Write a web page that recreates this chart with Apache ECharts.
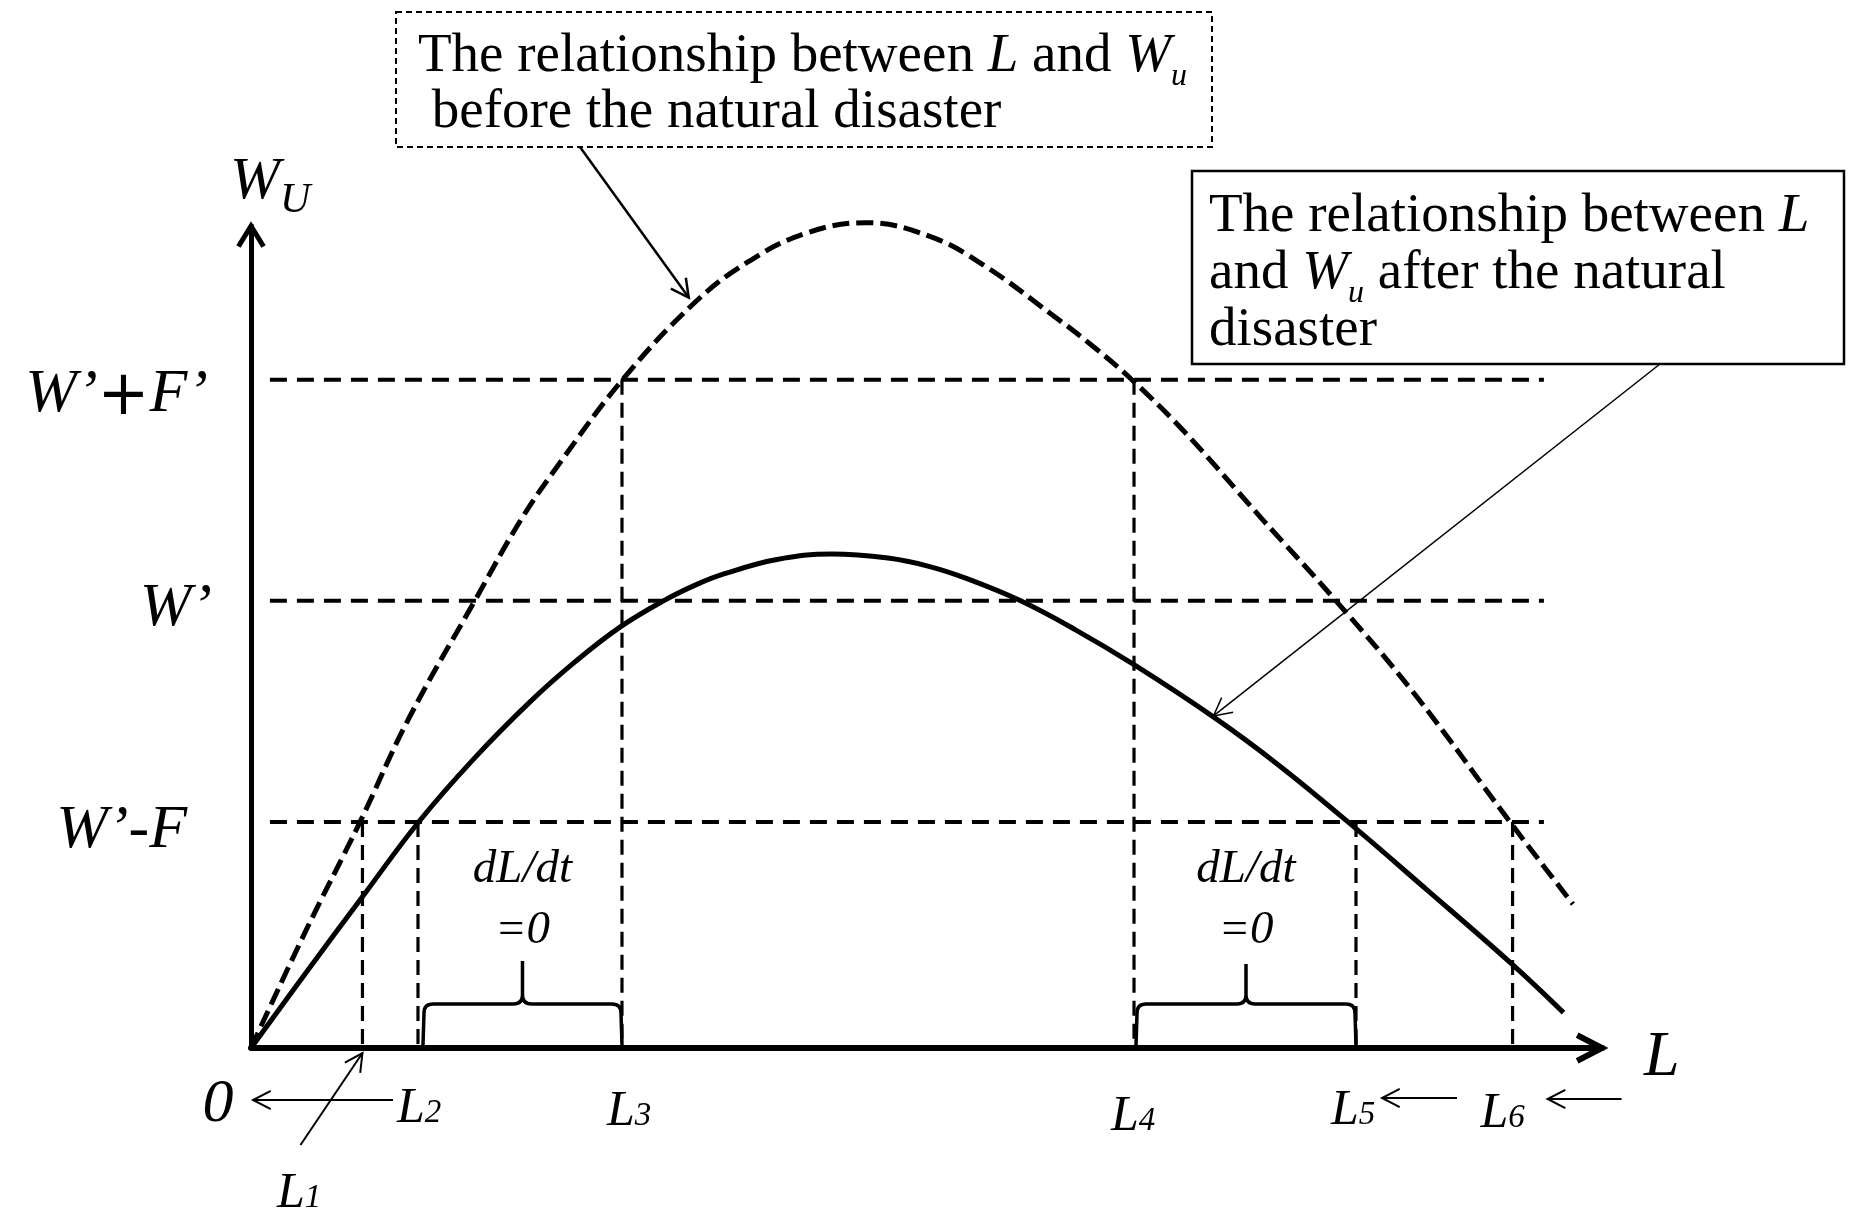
<!DOCTYPE html>
<html><head><meta charset="utf-8">
<script src="https://cdn.jsdelivr.net/npm/echarts@6.0.0/dist/echarts.min.js"></script>
<style>html,body{margin:0;padding:0;background:#fff;}#chart{width:1856px;height:1212px;}</style>
</head><body><div id="chart"></div>
<script>
// ---------------- data (L on x, W_U on y, arbitrary 0–100 units) ----------------
const beforeDisaster = [[0,0],[4.07,14.3],[8.07,27.5],[11.62,39.9],[16.56,54.4],[19.96,64.2],[22.87,71.2],[27.5,81.3],[32.79,90.6],[36.75,95.6],[41.04,99.1],[45.52,100.4],[50.3,98.7],[54.26,95.2],[59.22,89.3],[62.52,85.1],[65.2,81.3],[69.13,74.9],[74.76,64.5],[80.31,54.4],[86.16,43.0],[93.19,27.5],[97.85,17.5]];
const afterDisaster = [[0,0],[4,9.0],[8.25,18.4],[12.41,27.5],[16.56,35.3],[20.71,42.2],[24,47.0],[27.31,51.2],[30.53,54.4],[33,56.4],[35.06,57.7],[38.84,59.4],[43,60.1],[47.15,59.6],[50.17,58.6],[53,57.1],[56.97,54.4],[61,50.9],[65.39,46.6],[71.39,40.1],[76,34.5],[81.2,27.5],[87,19.3],[93.34,10.2],[97.15,4.3]];
const levelLabels = ['W’-F', 'W’', 'W’+F’'];
const levelValues = [27.5, 54.4, 81.3];
const levelSpan = [1.4, 95.7];
const lDigits = ['1', '2', '3', '4', '5', '6'];
const lValues = [8.25, 12.36, 27.46, 65.36, 81.79, 93.38];
const lLevelIndex = [0, 0, 2, 2, 0, 0];
const braceRanges = [[1, 2], [3, 4]];
const calloutTips = [[32.4, 91.3], [71.24, 40.4]];
const xAxisName = 'L';
const originLabel = '0';
const bracketText = ['dL/dt', '=0'];
const box1Lines = [
  [['The relationship between ', 'N'], ['L', 'I'], [' and ', 'N'], ['W', 'I'], ['u', 'S']],
  [[' before the natural disaster', 'N']]
];
const box2Lines = [
  [['The relationship between ', 'N'], ['L', 'I']],
  [['and ', 'N'], ['W', 'I'], ['u', 'S'], [' after the natural', 'N']],
  [['disaster', 'N']]
];

// ---------------- helpers ----------------
const FONTS = {
  N: '55px "Liberation Serif"',
  I: 'italic 55px "Liberation Serif"',
  S: 'italic 32px "Liberation Serif"'
};
const SUBDY = { S: 14 };
const mc = document.createElement('canvas').getContext('2d');
function measure(font, txt) {
  mc.font = font;
  mc.textBaseline = 'alphabetic';
  const a = mc.measureText(txt);
  mc.textBaseline = 'middle';
  const b = mc.measureText(txt);
  let mid = a.fontBoundingBoxAscent - b.fontBoundingBoxAscent;
  if (!isFinite(mid)) mid = parseFloat(font.match(/(\d+(?:\.\d+)?)px/)[1]) * 0.3;
  return { w: a.width, mid: mid };
}
// parts: [{t, f, dy}] ; y = alphabetic baseline
function runs(parts, x, y, align) {
  const ms = parts.map(p => measure(p.f, p.t));
  const total = ms.reduce((s, m) => s + m.w, 0);
  let cx = align === 'right' ? x - total : (align === 'center' ? x - total / 2 : x);
  const els = [];
  parts.forEach((p, i) => {
    els.push({
      type: 'text', x: cx, y: y + (p.dy || 0) - ms[i].mid, silent: true,
      style: { text: p.t, font: p.f, fill: '#000', align: 'left', verticalAlign: 'middle' }
    });
    cx += ms[i].w;
  });
  return els;
}
function seg(x1, y1, x2, y2, w) {
  return { type: 'line', shape: { x1, y1, x2, y2 }, style: { stroke: '#000', lineWidth: w, fill: null } };
}
function head(tx, ty, fx, fy, len, ang, w) {
  const a = Math.atan2(ty - fy, tx - fx);
  const p1 = [tx - len * Math.cos(a - ang), ty - len * Math.sin(a - ang)];
  const p2 = [tx - len * Math.cos(a + ang), ty - len * Math.sin(a + ang)];
  return { type: 'polyline', shape: { points: [p1, [tx, ty], p2] }, style: { stroke: '#000', lineWidth: w, fill: null, lineJoin: 'miter' } };
}
function arrow(fx, fy, tx, ty, w) {
  return [seg(fx, fy, tx, ty, w), head(tx, ty, fx, fy, 20, 0.48, w)];
}
function boxLines(lines, x, y0, step) {
  let els = [];
  lines.forEach((line, k) => {
    const parts = line.map(([t, f]) => ({ t, f: FONTS[f], dy: SUBDY[f] || 0 }));
    els = els.concat(runs(parts, x, y0 + k * step, 'left'));
  });
  return els;
}

// ---------------- annotation boxes (page furniture) ----------------
const box1 = { x: 396, y: 12, w: 816, h: 135 };
const box2 = { x: 1192, y: 171, w: 652, h: 193 };
let boxEls = [
  { type: 'rect', shape: { x: box1.x, y: box1.y, width: box1.w, height: box1.h }, style: { fill: 'none', stroke: '#000', lineWidth: 2, lineDash: [6, 4] }, silent: true },
  { type: 'rect', shape: { x: box2.x, y: box2.y, width: box2.w, height: box2.h }, style: { fill: 'none', stroke: '#000', lineWidth: 2.5 }, silent: true }
];
boxEls = boxEls.concat(boxLines(box1Lines, 418, 71, 56));
boxEls = boxEls.concat(boxLines(box2Lines, 1209, 231, 57));

// ---------------- custom annotation layer ----------------
const TICKF = 'italic 62px "Liberation Serif"';
const PLUSF = '62px "DejaVu Sans"';
const LF = 'italic 50px "Liberation Serif"';
const LDF = 'italic 33px "Liberation Serif"';
const DF = 'italic 47px "Liberation Serif"';
const lLabelDx = [-85, -21, -15, -23, -25, -32];
const lLabelDy = [159, 74, 77, 82, 76, 79];
const tickDx = [-64, -39, -43];
const tickDy = [25, 24, 31];

function renderItem(params, api) {
  if (params.dataIndex !== 0) return null;
  let els = [];
  const O = api.coord([0, 0]);
  const T = api.coord([0, 100]);
  const R = api.coord([100, 0]);
  const ax = O[0], ay = O[1];
  const px = v => api.coord([v, 0])[0];

  // axis arrowheads
  els.push(head(T[0], T[1], T[0], T[1] + 100, 24, 0.55, 5));
  els.push(head(R[0], R[1], R[0] - 100, R[1], 28, 0.48, 6));

  // braces + dL/dt texts
  braceRanges.forEach(([a, b], k) => {
    const x0 = px(lValues[a]) + (k === 0 ? 5 : 2);
    const x1 = px(lValues[b]);
    const mid = (x0 + x1) / 2;
    const yt = ay - 44, ytip = ay - (k === 0 ? 87 : 84), yb = ay - 3, r = 9;
    const d = `M${x0},${yb} L${x0 + 1},${yt + r} Q${x0 + 1},${yt} ${x0 + r + 1},${yt} L${mid - r},${yt} Q${mid},${yt} ${mid},${yt - r} L${mid},${ytip} ` +
      `M${mid},${yt - r} Q${mid},${yt} ${mid + r},${yt} L${x1 - r - 1},${yt} Q${x1 - 1},${yt} ${x1 - 1},${yt + r} L${x1},${yb}`;
    els.push({ type: 'path', shape: { pathData: d }, style: { stroke: '#000', lineWidth: 3.5, fill: null } });
    els = els.concat(runs([{ t: bracketText[0], f: DF }], mid, ay - 166, 'center'));
    els = els.concat(runs([{ t: bracketText[1], f: DF }], mid, ay - 105, 'center'));
  });

  // y tick labels
  levelLabels.forEach((lab, i) => {
    const y = api.coord([0, levelValues[i]])[1];
    let parts;
    if (lab.indexOf('+') >= 0) {
      const s = lab.split('+');
      parts = [{ t: s[0], f: TICKF }, { t: '+', f: PLUSF, dy: 3 }, { t: s[1], f: TICKF }];
    } else {
      parts = [{ t: lab, f: TICKF }];
    }
    els = els.concat(runs(parts, ax + tickDx[i], y + tickDy[i], 'right'));
  });

  // y axis title W_U
  els = els.concat(runs([{ t: 'W', f: 'italic 60px "Liberation Serif"' }, { t: 'U', f: 'italic 42px "Liberation Serif"', dy: 14 }], T[0] - 21, T[1] - 28, 'left'));
  // x axis title L
  els = els.concat(runs([{ t: xAxisName, f: 'italic 64px "Liberation Serif"' }], R[0] + 42, R[1] + 27, 'left'));
  // origin 0
  els = els.concat(runs([{ t: originLabel, f: 'italic 62px "Liberation Serif"' }], ax - 33, ay + 73, 'center'));

  // L labels
  lDigits.forEach((dg, i) => {
    const x = px(lValues[i]);
    const lx = i === 0 ? ax + 26 : x + lLabelDx[i];
    els = els.concat(runs([{ t: 'L', f: LF }, { t: dg, f: LDF }], lx, ay + lLabelDy[i], 'left'));
  });

  // small arrows near the axis
  const xL1 = px(lValues[0]), xL2 = px(lValues[1]), xL5 = px(lValues[4]), xL6 = px(lValues[5]);
  els = els.concat(arrow(xL1 - 62, ay + 97, xL1, ay + 5, 2));
  els = els.concat(arrow(xL2 - 25, ay + 52, ax + 2, ay + 52, 2));
  els = els.concat(arrow(xL5 + 101, ay + 50, xL5 + 26, ay + 50, 2));
  els = els.concat(arrow(xL6 + 109, ay + 51, xL6 + 35, ay + 51, 2));

  // callout arrows from boxes to curves
  const t1 = api.coord(calloutTips[0]);
  const t2 = api.coord(calloutTips[1]);
  els = els.concat(arrow(580, box1.y + box1.h, t1[0], t1[1], 2.5));
  els = els.concat(arrow(1660, box2.y + box2.h, t2[0], t2[1], 1.5));

  return { type: 'group', children: els };
}

// ---------------- series ----------------
const series = [];
levelValues.forEach(v => series.push({
  type: 'line', data: [[levelSpan[0], v], [levelSpan[1], v]], showSymbol: false, silent: true, z: 2,
  lineStyle: { color: '#000', width: 4, type: [17, 10] }
}));
lValues.forEach((v, i) => series.push({
  type: 'line', data: [[v, levelValues[lLevelIndex[i]]], [v, 0]], showSymbol: false, silent: true, z: 2,
  lineStyle: { color: '#000', width: 3.2, type: [15, 8] }
}));
series.push({
  name: 'before', type: 'line', data: beforeDisaster, smooth: 0.4, showSymbol: false, clip: false, silent: true, z: 3,
  lineStyle: { color: '#000', width: 5, type: [17, 7] }
});
series.push({
  name: 'after', type: 'line', data: afterDisaster, smooth: 0.4, showSymbol: false, clip: false, silent: true, z: 3,
  lineStyle: { color: '#000', width: 5 }
});
series.push({ type: 'custom', data: [[0, 0]], renderItem: renderItem, clip: false, silent: true, z: 5 });

const chart = echarts.init(document.getElementById('chart'), null, { renderer: 'canvas' });
chart.setOption({
  animation: false,
  backgroundColor: '#fff',
  grid: { left: 251, right: 254, top: 226, bottom: 164 },
  xAxis: { type: 'value', min: 0, max: 100, axisLine: { show: true, onZero: false, lineStyle: { color: '#000', width: 6 } }, axisTick: { show: false }, axisLabel: { show: false }, splitLine: { show: false } },
  yAxis: { type: 'value', min: 0, max: 100, axisLine: { show: true, onZero: false, lineStyle: { color: '#000', width: 5 } }, axisTick: { show: false }, axisLabel: { show: false }, splitLine: { show: false } },
  graphic: { elements: boxEls },
  series: series
});
</script></body></html>
